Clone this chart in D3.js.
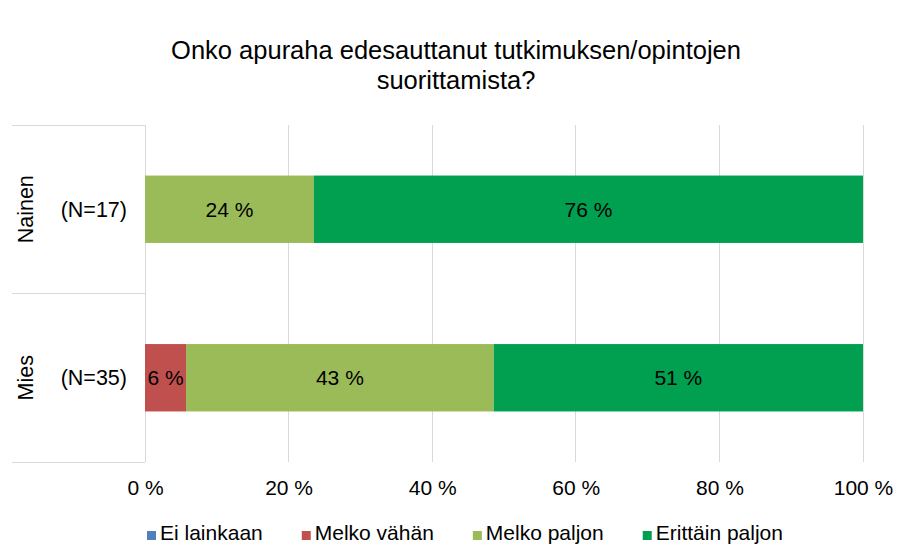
<!DOCTYPE html>
<html>
<head>
<meta charset="utf-8">
<script src="https://cdn.jsdelivr.net/npm/d3@7"></script>
<style>
  body { margin: 0; background: #fff; }
  text { font-family: "Liberation Sans", Arial, sans-serif; fill: #000; }
</style>
</head>
<body>
<svg id="chart" width="908" height="559"></svg>
<script>
// Respondent groups and their sizes
var groups = ["Nainen", "Mies"];
var groupN = [17, 35];

// Answer counts per group
var seriesNames = ["Ei lainkaan", "Melko vähän", "Melko paljon", "Erittäin paljon"];
var eiLainkaan = [0, 0];
var melkoVahan = [0, 2];
var melkoPaljon = [4, 15];
var erittainPaljon = [13, 18];

var xTicks = [0, 20, 40, 60, 80, 100];
var titleLines = ["Onko apuraha edesauttanut tutkimuksen/opintojen", "suorittamista?"];

var colors = ["#4F81BD", "#C0504D", "#9BBB59", "#00A050"];

var counts = [eiLainkaan, melkoVahan, melkoPaljon, erittainPaljon];
var data = groups.map(function(g, i) {
  var row = {group: g, n: groupN[i]};
  seriesNames.forEach(function(s, j) { row[s] = counts[j][i] / groupN[i] * 100; });
  return row;
});

var margin = {top: 125, left: 145, right: 45, bottom: 97};
var svg = d3.select("#chart");
var W = +svg.attr("width"), H = +svg.attr("height");
var gridColor = "#d9d9d9";

var x = d3.scaleLinear().domain([0, 100]).range([margin.left, W - margin.right]);
var y = d3.scaleBand().domain(groups)
          .range([margin.top, H - margin.bottom])
          .paddingInner(0.6).paddingOuter(0.3);
var yOuter = d3.scaleBand().domain(groups).range([margin.top, H - margin.bottom]);

// title
svg.append("text")
   .attr("x", 456).attr("y", 59)
   .attr("text-anchor", "middle")
   .style("font-size", "25.5px")
   .selectAll("tspan")
   .data(titleLines)
   .enter().append("tspan")
   .attr("x", 456)
   .attr("dy", function(d, i) { return i ? 30 : 0; })
   .text(function(d) { return d; });

// vertical gridlines
svg.append("g").selectAll("line")
   .data(xTicks)
   .enter().append("line")
   .attr("x1", function(d) { return x(d); })
   .attr("x2", function(d) { return x(d); })
   .attr("y1", margin.top).attr("y2", H - margin.bottom)
   .attr("stroke", gridColor).attr("stroke-width", 1)
   .attr("shape-rendering", "crispEdges");

// category separators on the left
var seps = [margin.top].concat(groups.map(function(g) { return yOuter(g) + yOuter.bandwidth(); }));
svg.append("g").selectAll("line")
   .data(seps)
   .enter().append("line")
   .attr("x1", 12).attr("x2", margin.left)
   .attr("y1", function(d) { return d; })
   .attr("y2", function(d) { return d; })
   .attr("stroke", gridColor).attr("stroke-width", 1)
   .attr("shape-rendering", "crispEdges");

// x axis labels
var xAxis = svg.append("g")
   .attr("transform", "translate(0," + (H - margin.bottom) + ")")
   .call(d3.axisBottom(x).tickValues(xTicks).tickSize(0).tickPadding(18)
           .tickFormat(function(d) { return d + " %"; }));
xAxis.select(".domain").remove();
xAxis.selectAll("text")
     .style("font-size", "21px")
     .style("font-family", "'Liberation Sans', Arial, sans-serif")
     .attr("fill", "#000");

// stacked bars
var stack = d3.stack().keys(seriesNames)(data);
var layers = svg.selectAll("g.layer")
   .data(stack)
   .enter().append("g")
   .attr("class", "layer")
   .attr("fill", function(d, i) { return colors[i]; });

layers.selectAll("rect")
   .data(function(d) { return d; })
   .enter().append("rect")
   .attr("x", function(d) { return x(d[0]); })
   .attr("y", function(d) { return y(d.data.group); })
   .attr("width", function(d) { return x(d[1]) - x(d[0]); })
   .attr("height", y.bandwidth());

// value labels
layers.selectAll("text")
   .data(function(d) { return d.filter(function(e) { return e[1] - e[0] > 0; }); })
   .enter().append("text")
   .attr("x", function(d) { return (x(d[0]) + x(d[1])) / 2; })
   .attr("y", function(d) { return y(d.data.group) + y.bandwidth() / 2; })
   .attr("dy", "0.36em")
   .attr("text-anchor", "middle")
   .style("font-size", "21px")
   .text(function(d) { return Math.round(d[1] - d[0]) + " %"; });

// group labels: rotated name + N
var gl = svg.append("g").selectAll("g")
   .data(data)
   .enter().append("g");

gl.append("text")
  .attr("transform", function(d) {
    return "translate(33," + (yOuter(d.group) + yOuter.bandwidth() / 2) + ") rotate(-90)";
  })
  .attr("text-anchor", "middle")
  .style("font-size", "21.5px")
  .text(function(d) { return d.group; });

gl.append("text")
  .attr("x", 127)
  .attr("y", function(d) { return y(d.group) + y.bandwidth() / 2; })
  .attr("dy", "0.36em")
  .attr("text-anchor", "end")
  .style("font-size", "21.5px")
  .text(function(d) { return "(N=" + d.n + ")"; });

// legend
var legend = svg.append("g");
var items = legend.selectAll("g")
   .data(seriesNames)
   .enter().append("g");
items.append("rect")
   .attr("width", 9).attr("height", 9)
   .attr("y", -9)
   .attr("fill", function(d, i) { return colors[i]; });
items.append("text")
   .attr("x", 13)
   .style("font-size", "21px")
   .text(function(d) { return d; });

var gap = 39;
var cursor = 0;
items.each(function() {
  var node = d3.select(this);
  node.attr("transform", "translate(" + cursor + ",0)");
  cursor += 13 + node.select("text").node().getComputedTextLength() + gap;
});
var legendWidth = cursor - gap;
legend.attr("transform", "translate(" + (465 - legendWidth / 2) + ",540)");
</script>
</body>
</html>
